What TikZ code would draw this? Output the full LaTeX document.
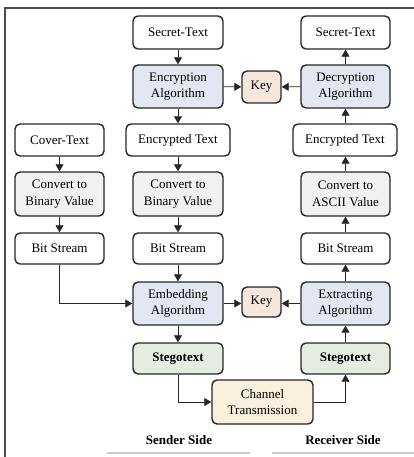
\documentclass[tikz,border=0pt]{standalone}
\usepackage{fontspec}
\setmainfont{Liberation Serif}
\usetikzlibrary{arrows.meta}
\definecolor{cblue}{HTML}{E2E7F1}
\definecolor{cpeach}{HTML}{F6E7DC}
\definecolor{cgray}{HTML}{F1F1F1}
\definecolor{cgreen}{HTML}{E5EDE0}
\definecolor{cyellow}{HTML}{F8F0DC}
\tikzset{
  box/.style={draw=black!85, line width=1.4pt, rounded corners=5pt, align=center,
    inner sep=0pt, font=\fontsize{13}{16.5}\selectfont, fill=white},
  arr/.style={draw=black!85, line width=0.8pt, -{Triangle[length=7pt,width=8pt]}},
  lbl/.style={font=\fontsize{13}{15}\selectfont\bfseries}
}
\begin{document}
\begin{tikzpicture}[x=1pt,y=-1pt]
\useasboundingbox (0,0) rectangle (414,457);
\draw[line width=1.5pt, black!70] (5,457) -- (5,8) -- (414,8);
\draw[line width=1.5pt, black!20] (107,453) -- (250,453);
\draw[line width=1.5pt, black!20] (272,453) -- (414,453);

\node[box, minimum width=90pt, minimum height=33pt] (st1) at (178,32.5) {Secret-Text};
\node[box, fill=cblue, minimum width=90pt, minimum height=43pt] (enc) at (178,86.5) {Encryption\\Algorithm};
\node[box, fill=cpeach, minimum width=39pt, minimum height=32pt] (key1) at (261.5,87) {Key};
\node[box, fill=cblue, minimum width=89pt, minimum height=43pt] (dec) at (345.5,86.5) {Decryption\\Algorithm};
\node[box, minimum width=89pt, minimum height=33pt] (st2) at (345.5,32.5) {Secret-Text};

\node[box, minimum width=89pt, minimum height=32pt] (cover) at (59.5,140) {Cover-Text};
\node[box, minimum width=104pt, minimum height=32pt] (et1) at (178,140) {Encrypted Text};
\node[box, minimum width=104pt, minimum height=32pt] (et2) at (345,140) {Encrypted Text};

\node[box, fill=cgray, minimum width=89pt, minimum height=44pt] (cb0) at (59.5,194) {Convert to\\Binary Value};
\node[box, fill=cgray, minimum width=90pt, minimum height=44pt] (cb1) at (178,194) {Convert to\\Binary Value};
\node[box, fill=cgray, minimum width=89pt, minimum height=44pt] (ca) at (345.5,194) {Convert to\\ASCII Value};

\node[box, minimum width=89pt, minimum height=31pt] (bs0) at (59.5,248.5) {Bit Stream};
\node[box, minimum width=90pt, minimum height=31pt] (bs1) at (178,248.5) {Bit Stream};
\node[box, minimum width=89pt, minimum height=31pt] (bs2) at (345.5,248.5) {Bit Stream};

\node[box, fill=cblue, minimum width=90pt, minimum height=43pt] (emb) at (178,303.5) {Embedding\\Algorithm};
\node[box, fill=cpeach, minimum width=39pt, minimum height=30pt] (key2) at (261.5,302) {Key};
\node[box, fill=cblue, minimum width=89pt, minimum height=43pt] (ext) at (345.5,303.5) {Extracting\\Algorithm};

\node[box, fill=cgreen, minimum width=90pt, minimum height=31pt, font=\fontsize{13}{16}\selectfont\bfseries] (sg1) at (178,358.5) {Stegotext};
\node[box, fill=cgreen, minimum width=89pt, minimum height=31pt, font=\fontsize{13}{16}\selectfont\bfseries] (sg2) at (345.5,358.5) {Stegotext};
\node[box, fill=cyellow, minimum width=101pt, minimum height=44pt] (ch) at (262.5,402) {Channel\\Transmission};

\node[lbl] (sender) at (179,440) {Sender Side};
\node[lbl] (receiver) at (343,440) {Receiver Side};

\draw[arr] (st1) -- (enc);
\draw[arr] (enc) -- (et1);
\draw[arr] (et1) -- (cb1);
\draw[arr] (cb1) -- (bs1);
\draw[arr] (bs1) -- (emb);
\draw[arr] (emb) -- (sg1);
\draw[arr] (enc) -- (key1);
\draw[arr] (dec) -- (key1);
\draw[arr] (dec) -- (st2);
\draw[arr] (et2.north -| dec.south) -- (dec);
\draw[arr] (ca.north) -- (ca.north |- et2.south);
\draw[arr] (bs2) -- (ca);
\draw[arr] (ext) -- (bs2);
\draw[arr] (sg2) -- (ext);
\draw[arr] (emb) -- (key2.west |- emb.east);
\draw[arr] (ext) -- (key2.east |- ext.west);
\draw[arr] (cover) -- (cb0);
\draw[arr] (cb0) -- (bs0);
\draw[arr] (bs0.south) |- (emb.west);
\draw[arr] (sg1.south) |- (ch.west);
\draw[arr] (ch.east) -| (sg2.south);
\end{tikzpicture}
\end{document}
